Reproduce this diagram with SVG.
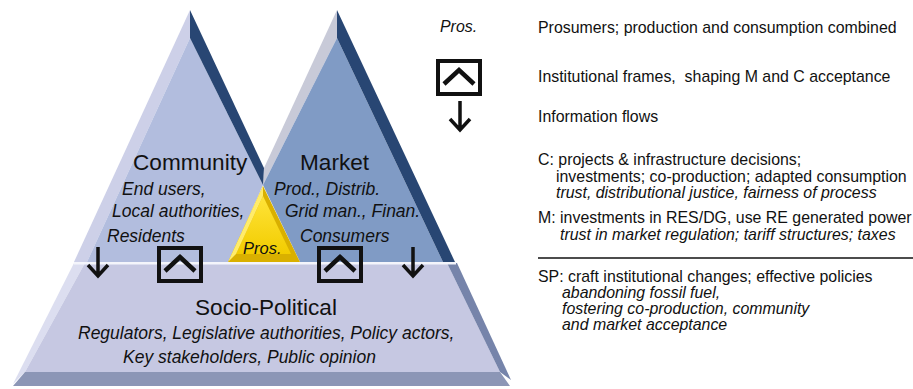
<svg xmlns="http://www.w3.org/2000/svg" xmlns:xlink="http://www.w3.org/1999/xlink" width="913" height="389" viewBox="0 0 913 389">
  <style>
    .title { font-family: "Liberation Sans", Arial, sans-serif; font-size: 22.6px; fill: #111; }
    .it { font-family: "Liberation Sans", Arial, sans-serif; font-size: 17.5px; font-style: italic; fill: #111; }
    .leg { font-family: "Liberation Sans", Arial, sans-serif; font-size: 15.9px; fill: #111; }
    .legi { font-family: "Liberation Sans", Arial, sans-serif; font-size: 15.9px; font-style: italic; fill: #111; }
    .sym { fill: none; stroke: #111; }
  </style>
  <defs>
    <g id="frameBox">
      <rect x="0" y="0" width="42" height="33" class="sym" stroke-width="4"/>
      <polyline points="6,23 21,9 36,23" class="sym" stroke-width="4.5"/>
    </g>
    <g id="downArrow">
      <path d="M0,0 V29 M-10,18 L0,29 L10,18" class="sym" stroke-width="3.5"/>
    </g>
    <linearGradient id="yellowGrad" x1="0" y1="0" x2="0" y2="1">
      <stop offset="0" stop-color="#ffe43a"/>
      <stop offset="1" stop-color="#f2cc00"/>
    </linearGradient>
  </defs>

  <rect x="0" y="0" width="913" height="389" fill="#ffffff"/>

  <!-- Socio-Political base -->
  <g id="node-sociopolitical">
    <polygon points="74,263 85,263 25,372 13,384" fill="#dcdef0"/>
    <polygon points="85,263 447,263 500,372 25,372" fill="#c6c8e2"/>
    <polygon points="447,263 457,263 511,380 500,372" fill="#7684aa"/>
    <polygon points="25,372 500,372 510,386 13,386" fill="#8c96b6"/>
    <line x1="74" y1="263" x2="456" y2="263" stroke="#f4f5fb" stroke-width="3"/>
    <text class="title" x="195" y="315">Socio-Political</text>
    <text class="it" x="78" y="339">Regulators, Legislative authorities, Policy actors,</text>
    <text class="it" x="123" y="363">Key stakeholders, Public opinion</text>
  </g>

  <!-- Market pyramid -->
  <g id="node-market">
    <polygon points="337,10 264,168 263,185 337,38" fill="#c8cad8"/>
    <polygon points="337,38 263,185 300,262 443,262" fill="#809bc5"/>
    <polygon points="337,10 455,262 443,262 337,38" fill="#284673"/>
    <text class="title" x="300" y="170">Market</text>
    <text class="it" x="274" y="195">Prod., Distrib.</text>
    <text class="it" x="285" y="217">Grid man., Finan.</text>
    <text class="it" x="300" y="242">Consumers</text>
  </g>

  <!-- Community pyramid -->
  <g id="node-community">
    <polygon points="190,10 74,262 87,262 190,38" fill="#cdd0e8"/>
    <polygon points="190,38 87,262 229,262 263,185" fill="#b2bdde"/>
    <polygon points="190,10 264,168 263,185 190,38" fill="#284673"/>
    <text class="title" x="133" y="170">Community</text>
    <text class="it" x="122" y="195">End users,</text>
    <text class="it" x="112" y="217">Local authorities,</text>
    <text class="it" x="107" y="242">Residents</text>
  </g>

  <!-- Prosumers -->
  <g id="node-pros">
    <polygon points="263,186 228,262 300,262" fill="#d9b000"/>
    <polygon points="263,196 236,254 291,254" fill="url(#yellowGrad)"/>
    <polygon points="263,186 228,262 236,254 263,196" fill="#ffec6a"/>
    <text class="it" x="243" y="254" style="font-size:16.5px">Pros.</text>
  </g>

  <!-- Connectors: institutional frames and information flows -->
  <g id="connectors">
    <use xlink:href="#downArrow" x="98" y="247"/>
    <use xlink:href="#downArrow" x="413" y="247"/>
    <use xlink:href="#frameBox" x="159" y="248"/>
    <use xlink:href="#frameBox" x="319" y="248"/>
  </g>

  <!-- Legend -->
  <g id="legend">
    <text class="legi" x="440" y="32">Pros.</text>
    <use xlink:href="#frameBox" x="438" y="61"/>
    <use xlink:href="#downArrow" x="460" y="101"/>
    <text class="leg" x="538" y="33">Prosumers; production and consumption combined</text>
    <text class="leg" x="538" y="82" xml:space="preserve">Institutional frames,  shaping M and C acceptance</text>
    <text class="leg" x="538" y="122">Information flows</text>
    <text class="leg" x="538" y="165">C: projects &amp; infrastructure decisions;</text>
    <text class="leg" x="556" y="182">investments; co-production; adapted consumption</text>
    <text class="legi" x="556" y="198">trust, distributional justice, fairness of process</text>
    <text class="leg" x="538" y="223">M: investments in RES/DG, use RE generated power</text>
    <text class="legi" x="560" y="240">trust in market regulation; tariff structures; taxes</text>
    <line x1="538" y1="258" x2="913" y2="258" stroke="#111" stroke-width="1.6"/>
    <text class="leg" x="538" y="282">SP: craft institutional changes; effective policies</text>
    <text class="legi" x="562" y="298">abandoning fossil fuel,</text>
    <text class="legi" x="562" y="314">fostering co-production, community</text>
    <text class="legi" x="562" y="330">and market acceptance</text>
  </g>
</svg>
